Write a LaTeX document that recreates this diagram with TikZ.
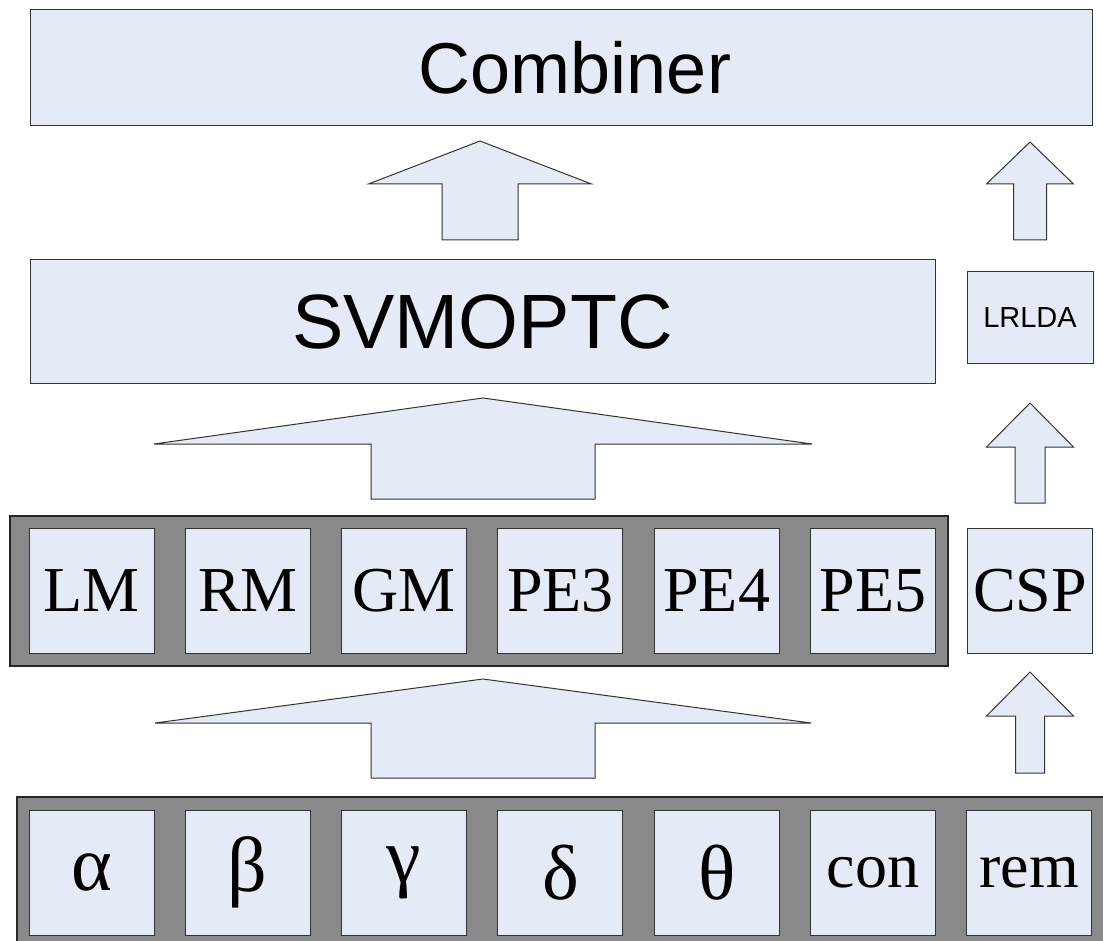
\documentclass[tikz,border=0pt]{standalone}
\usepackage{fontspec}
\setmainfont{Liberation Serif}
\setsansfont{Liberation Sans}
\usepackage{tikz}
\usetikzlibrary{positioning}

\definecolor{boxfill}{HTML}{E4EBF6}
\definecolor{traygray}{HTML}{898989}
\definecolor{edgegray}{HTML}{333333}

\tikzset{
  blockbox/.style={draw=edgegray, fill=boxfill, line width=1pt, inner sep=0pt, outer sep=0pt},
  featbox/.style={blockbox, minimum width=125pt, minimum height=125pt, font=\fontsize{64}{70}\selectfont},
  greekbox/.style={featbox, font=\fontsize{78}{80}\selectfont},
  tray/.style={draw=black!85, fill=traygray, line width=1.3pt},
  uparrow/.style={draw=black!80, fill=boxfill, line width=1pt},
}

\begin{document}
\begin{tikzpicture}[x=1pt, y=-1pt]
    \useasboundingbox (0,0) rectangle (1103,941);
    \clip (0,0) rectangle (1103,941);

    % Top level
    \node[blockbox, minimum width=1062pt, minimum height=116pt] (combiner) at (561,68) {};
    \node[font=\sffamily\fontsize{72}{76}\selectfont] (combtext) at (575,68) {Combiner};
    \node[blockbox, minimum width=905pt, minimum height=123pt, font=\sffamily\fontsize{77}{80}\selectfont] (svm) at (482.5,321.5) {SVMOPTC};
    \node[blockbox, minimum width=126pt, minimum height=91pt, font=\sffamily\fontsize{29}{32}\selectfont] (lrlda) at (1030,317.5) {LRLDA};

    % Gray trays
    \draw[tray] (10,516) rectangle (948,666);
    \draw[tray] (17,797) rectangle (1115,955);

    % Middle row
    \foreach \i/\t in {0/LM, 1/RM, 2/GM, 3/PE3, 4/PE4, 5/PE5} {
      \node[featbox] (mid\i) at (91.5+156.3*\i,590.5) {\t};
    }
    \node[featbox] (csp) at (1030,590.5) {CSP};

    % Bottom row
    \foreach \i/\t in {0/α, 1/β, 2/γ, 3/δ, 4/θ} {
      \node[greekbox] (low\i) at (91.5+156.3*\i,872.5) {\t};
    }
    \foreach \i/\t in {5/con, 6/rem} {
      \node[featbox] (low\i) at (91.5+156.3*\i,872.5) {\t};
    }

    % Block arrows: centre/tip/head base/bottom/head half width/shaft half width
    \foreach \cx/\ty/\hy/\by/\hw/\sw in {480/141/184/240/111.5/38, 483/398/444/499/329/112, 483/679/723/778/328/112, 1030/142/184/240/43.5/16.5, 1030/403/447/503/43.5/15, 1030/672/716/773/43.5/14.5} {
      \draw[uparrow] (\cx,\ty) -- (\cx+\hw,\hy) -- (\cx+\sw,\hy) -- (\cx+\sw,\by)
        -- (\cx-\sw,\by) -- (\cx-\sw,\hy) -- (\cx-\hw,\hy) -- cycle;
    }
\end{tikzpicture}
\end{document}
